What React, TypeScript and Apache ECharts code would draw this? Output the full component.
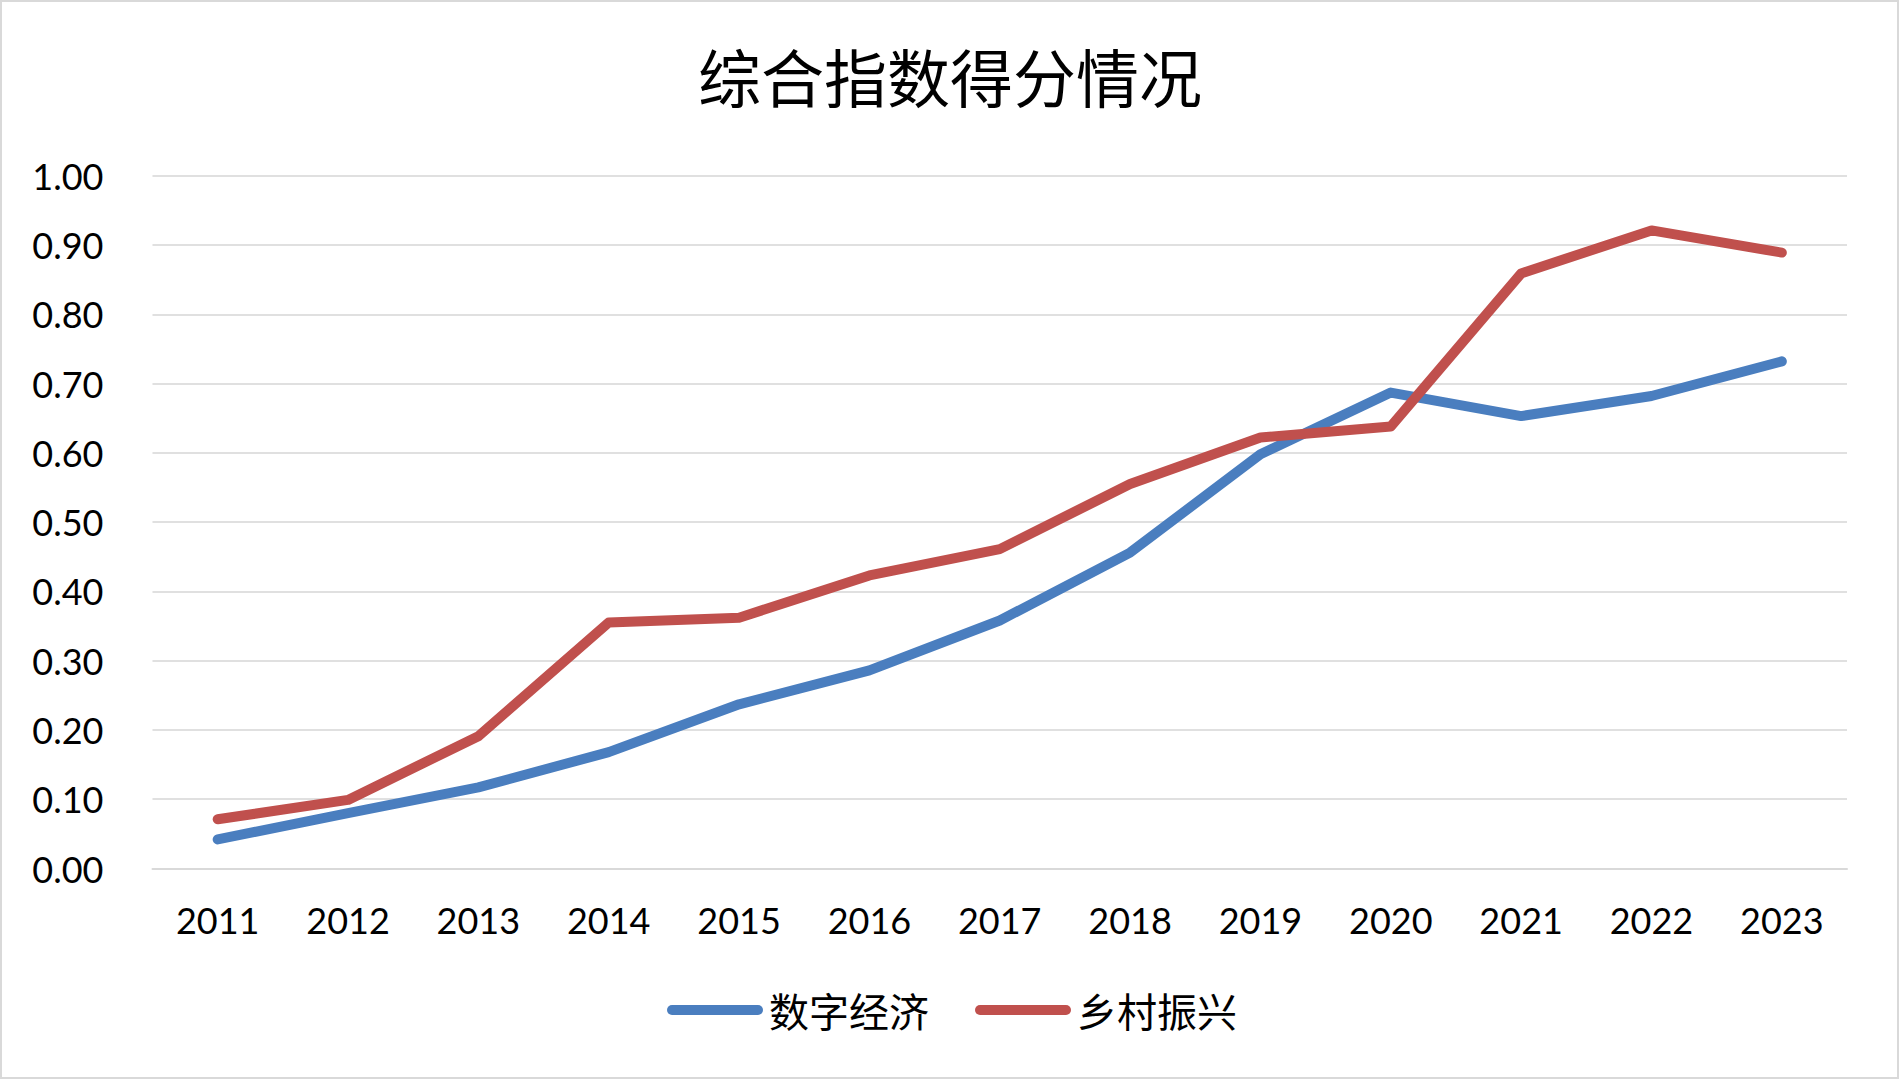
import React, { useEffect, useRef } from "react";
import * as echarts from "echarts";

const TITLE = "综合指数得分情况";
const CATEGORIES = ["2011", "2012", "2013", "2014", "2015", "2016", "2017", "2018", "2019", "2020", "2021", "2022", "2023"];
const SERIES_NAMES = ["数字经济", "乡村振兴"];
const DIGITAL_ECONOMY = [0.042, 0.080, 0.117, 0.168, 0.237, 0.286, 0.358, 0.456, 0.598, 0.687, 0.653, 0.682, 0.732];
const RURAL_REVITALIZATION = [0.071, 0.099, 0.191, 0.355, 0.362, 0.423, 0.461, 0.555, 0.622, 0.638, 0.859, 0.921, 0.889];
const Y_MIN = 0;
const Y_MAX = 1;
const Y_INTERVAL = 0.1;

const COLORS = ["#4A7EBF", "#C0504D"];
const NUM_FONT = "Lato, 'Noto Sans', sans-serif";
const CJK_FONT = "'Noto Sans CJK SC', sans-serif";

export default function App() {
  const ref = useRef<HTMLDivElement>(null);

  useEffect(() => {
    if (!ref.current) return;
    const chart = echarts.init(ref.current, undefined, { renderer: "svg" });
    const legendIcon = "path://M5,0 H91 A5,5 0 0 1 91,10 H5 A5,5 0 0 1 5,0 Z";
    chart.setOption({
      animation: false,
      backgroundColor: "#ffffff",
      title: {
        text: TITLE,
        left: "center",
        top: 43,
        padding: 0,
        textStyle: { fontFamily: CJK_FONT, fontSize: 63, fontWeight: "normal", color: "#000000" },
      },
      legend: {
        left: 667,
        top: 990,
        padding: 0,
        itemWidth: 96,
        itemHeight: 10,
        itemGap: 46,
        icon: legendIcon,
        data: SERIES_NAMES,
        textStyle: { fontFamily: CJK_FONT, fontSize: 40, color: "#000000", padding: [0, 0, 0, 1] },
      },
      grid: { left: 152.5, right: 53, top: 175.7, bottom: 212.5, containLabel: false },
      xAxis: {
        type: "category",
        data: CATEGORIES,
        boundaryGap: true,
        axisLine: { show: true, lineStyle: { color: "#d9d9d9", width: 2 } },
        axisTick: { show: false },
        axisLabel: { fontFamily: NUM_FONT, fontSize: 36, color: "#000000", margin: 33 },
      },
      yAxis: {
        type: "value",
        min: Y_MIN,
        max: Y_MAX,
        interval: Y_INTERVAL,
        axisLine: { show: false },
        axisTick: { show: false },
        splitLine: { lineStyle: { color: "#e0e0e0", width: 2 } },
        axisLabel: {
          fontFamily: NUM_FONT,
          fontSize: 36,
          color: "#000000",
          margin: 49,
          formatter: (v: number) => v.toFixed(2),
        },
      },
      series: [
        {
          name: SERIES_NAMES[0],
          type: "line",
          data: DIGITAL_ECONOMY,
          symbol: "none",
          color: COLORS[0],
          lineStyle: { color: COLORS[0], width: 10, cap: "round", join: "round" },
          z: 2,
        },
        {
          name: SERIES_NAMES[1],
          type: "line",
          data: RURAL_REVITALIZATION,
          symbol: "none",
          color: COLORS[1],
          lineStyle: { color: COLORS[1], width: 10, cap: "round", join: "round" },
          z: 3,
        },
      ],
      graphic: [
        {
          type: "rect",
          shape: { x: 1, y: 1, width: 1897, height: 1077 },
          style: { fill: "none", stroke: "#d9d9d9", lineWidth: 2 },
          silent: true,
        },
      ],
    });
    return () => chart.dispose();
  }, []);

  return (
    <div
      ref={ref}
      style={{ position: "fixed", left: 0, top: 0, width: 1900, height: 1081, background: "#fff" }}
    />
  );
}
